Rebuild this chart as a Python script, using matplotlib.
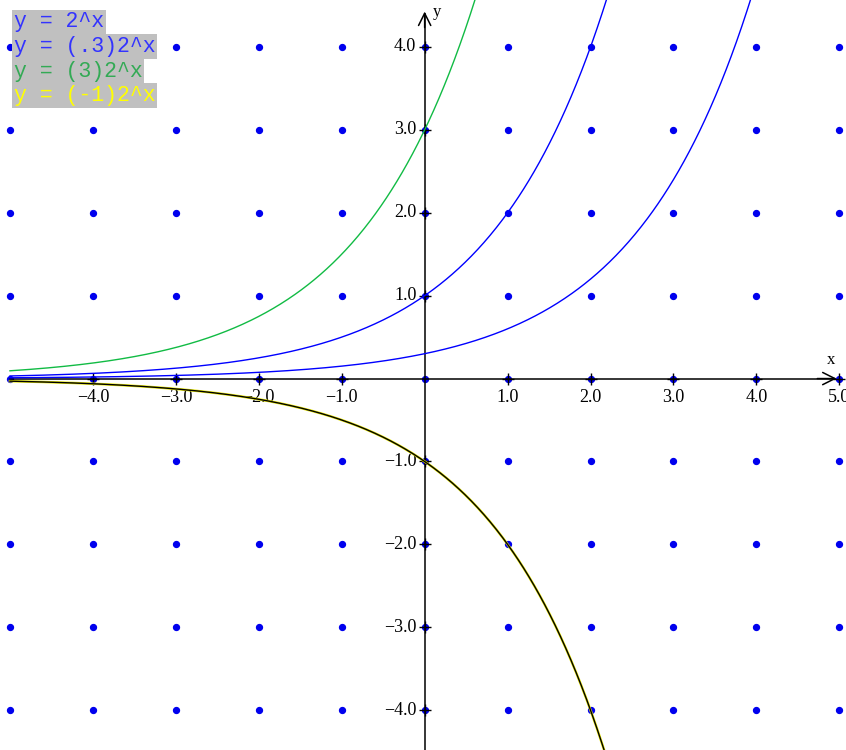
import numpy as np
import matplotlib.pyplot as plt

# y = c * 2^x for each curve, as listed in the legend
labels = ["y = 2^x", "y = (.3)2^x", "y = (3)2^x", "y = (-1)2^x"]
coefs = [1.0, 0.3, 3.0, -1.0]
text_colors = ["#3333ff", "#3333ff", "#33aa55", "#ffff00"]
line_colors = ["#0000ff", "#0000ff", "#11bb44", "#000000"]

x_ticks = [-4, -3, -2, -1, 1, 2, 3, 4, 5]
x_tick_labels = ["\u22124.0", "\u22123.0", "\u22122.0", "\u22121.0", "1.0", "2.0", "3.0", "4.0", "5.0"]
y_ticks = [-4, -3, -2, -1, 1, 2, 3, 4]
y_tick_labels = ["\u22124.0", "\u22123.0", "\u22122.0", "\u22121.0", "1.0", "2.0", "3.0", "4.0"]

grid_x = [-5, -4, -3, -2, -1, 0, 1, 2, 3, 4, 5]
grid_y = [-4, -3, -2, -1, 0, 1, 2, 3, 4]

fig = plt.figure(figsize=(8.46, 7.5), dpi=100)
ax = fig.add_axes([0, 0, 1, 1])
ax.set_xlim(-5.12, 5.08)
ax.set_ylim(-4.48, 4.566)
ax.axis("off")

# blue dot grid
gx, gy = np.meshgrid(grid_x, grid_y)
ax.scatter(gx.ravel(), gy.ravel(), s=18, color="#0000ee", zorder=2)

# axes with open arrow heads
ax.plot([-5.0, 4.95], [0, 0], color="black", lw=1.1, zorder=3)
ax.annotate("", xy=(5.0, 0), xytext=(4.7, 0),
            arrowprops=dict(arrowstyle="->", color="black", lw=1.1, mutation_scale=22))
ax.plot([0, 0], [-4.48, 4.4], color="black", lw=1.1, zorder=3)
ax.annotate("", xy=(0, 4.46), xytext=(0, 4.2),
            arrowprops=dict(arrowstyle="->", color="black", lw=1.1, mutation_scale=22))

# tick crosses
ax.scatter(x_ticks, [0] * len(x_ticks), marker="+", s=80, color="black", lw=1, zorder=4)
ax.scatter([0] * len(y_ticks), y_ticks, marker="+", s=80, color="black", lw=1, zorder=4)

serif = "Liberation Serif"
for xt, lab in zip(x_ticks, x_tick_labels):
    ax.text(xt, -0.13, lab, ha="center", va="top", fontsize=13, family=serif)
for yt, lab in zip(y_ticks, y_tick_labels):
    ax.text(-0.1, yt, lab, ha="right", va="center", fontsize=13, family=serif)
ax.text(4.9, 0.13, "x", ha="center", va="bottom", fontsize=12, family=serif)
ax.text(0.15, 4.42, "y", ha="center", va="center", fontsize=12, family=serif)

# curves
xs = np.linspace(-5.0, 5.1, 800)
for c, col in zip(coefs, line_colors):
    if c < 0:
        ax.plot(xs, c * 2 ** xs, color="#e8e800", lw=1.8, zorder=5)
    ax.plot(xs, c * 2 ** xs, color=col, lw=1, zorder=6)

# legend boxes
for i, (lab, tc) in enumerate(zip(labels, text_colors)):
    ax.text(14 / 846, 1 - (22 + i * 24.5) / 750, lab, transform=ax.transAxes,
            ha="left", va="center", fontsize=15.5, family="Liberation Mono", color=tc,
            bbox=dict(boxstyle="square,pad=0.08", fc="#c0c0c0", ec="none"), zorder=7)

fig.savefig("out.png", dpi=100)
